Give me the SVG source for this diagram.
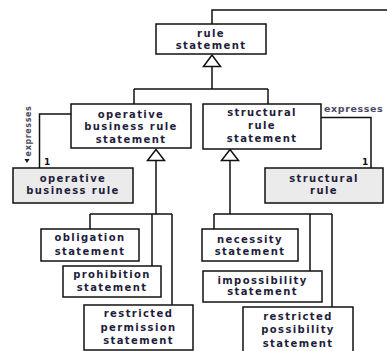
<svg xmlns="http://www.w3.org/2000/svg" width="387" height="351" viewBox="0 0 387 351">
<style>
.box{fill:#fff;stroke:#111;stroke-width:1.5}
.gray{fill:#ebebeb;stroke:#111;stroke-width:1.5}
.t{font-family:"DejaVu Sans","Liberation Sans",sans-serif;font-weight:bold;font-size:10px;letter-spacing:1.4px;fill:#1e1e3c;text-anchor:middle}
.lbl{font-family:"DejaVu Sans","Liberation Sans",sans-serif;font-weight:bold;font-size:9.5px;letter-spacing:0.6px;fill:#4a4a60}
.one{font-family:"DejaVu Sans","Liberation Sans",sans-serif;font-weight:bold;font-size:9px;fill:#111}
.ln{fill:none;stroke:#111;stroke-width:1.5}
.tri{fill:#fff;stroke:#111;stroke-width:1.5;stroke-linejoin:miter}
</style>
<rect width="387" height="351" fill="#fff"/>
<g id="connectors">
<path class="ln" d="M212,24 V10 H390"/>
<path class="ln" d="M212,66.5 V89 M134,89 H268 M134,89 V104 M268,89 V104"/>
<polygon class="tri" points="212,55 203.5,66.5 220.5,66.5"/>
<path class="ln" d="M156,160.5 V214 M90,214 H172 M90,214 V229 M152,214 V266 M172,214 V305"/>
<polygon class="tri" points="156,149.5 147.5,160.5 164.5,160.5"/>
<path class="ln" d="M230,160.5 V214 M214,214 H332 M214,214 V229 M310,214 V271 M332,214 V307"/>
<polygon class="tri" points="230,149.5 221.5,160.5 238.5,160.5"/>
<path class="ln" d="M71,114 H39.5 V168"/>
<path class="ln" d="M321,117.5 H371 V168"/>
<text class="lbl" transform="translate(31,131) rotate(-90)" text-anchor="middle" style="font-size:8px;letter-spacing:0.6px">expresses</text>
<polygon points="24.5,159 29.5,159 27,163" fill="#111"/>
<text class="one" x="44" y="165">1</text>
<text class="lbl" x="324" y="112">expresses</text>
<text class="one" x="362" y="165">1</text>
</g>
<g id="rule-statement">
<rect class="box" x="156" y="24" width="110" height="30"/>
<text class="t" x="211" y="36.5">rule</text>
<text class="t" x="211" y="49">statement</text>
</g>
<g id="operative-business-rule-statement">
<rect class="box" x="71" y="104" width="120" height="44"/>
<text class="t" x="131" y="117.5">operative</text>
<text class="t" x="131" y="130">business rule</text>
<text class="t" x="131" y="142.5">statement</text>
</g>
<g id="structural-rule-statement">
<rect class="box" x="203" y="104" width="118" height="45"/>
<text class="t" x="262" y="115.5">structural</text>
<text class="t" x="262" y="128.5">rule</text>
<text class="t" x="262" y="141.5">statement</text>
</g>
<g id="operative-business-rule">
<rect class="gray" x="13" y="168" width="120" height="35"/>
<text class="t" x="73" y="182">operative</text>
<text class="t" x="73" y="194">business rule</text>
</g>
<g id="structural-rule">
<rect class="gray" x="265" y="168" width="118" height="35"/>
<text class="t" x="324" y="182">structural</text>
<text class="t" x="324" y="193.5">rule</text>
</g>
<g id="obligation-statement">
<rect class="box" x="41" y="229" width="98" height="32"/>
<text class="t" x="90" y="241">obligation</text>
<text class="t" x="90" y="255">statement</text>
</g>
<g id="prohibition-statement">
<rect class="box" x="63" y="266" width="98" height="31"/>
<text class="t" x="112" y="277.5">prohibition</text>
<text class="t" x="112" y="291">statement</text>
</g>
<g id="restricted-permission-statement">
<rect class="box" x="84" y="305" width="109" height="45"/>
<text class="t" x="138.5" y="317">restricted</text>
<text class="t" x="138.5" y="330.5">permission</text>
<text class="t" x="138.5" y="343.5">statement</text>
</g>
<g id="necessity-statement">
<rect class="box" x="202" y="229" width="96" height="32"/>
<text class="t" x="250" y="242.5">necessity</text>
<text class="t" x="250" y="255">statement</text>
</g>
<g id="impossibility-statement">
<rect class="box" x="203" y="271" width="119" height="31"/>
<text class="t" x="262.5" y="283.5">impossibility</text>
<text class="t" x="262.5" y="295">statement</text>
</g>
<g id="restricted-possibility-statement">
<rect class="box" x="243" y="307" width="110" height="46"/>
<text class="t" x="298" y="320">restricted</text>
<text class="t" x="298" y="332.5">possibility</text>
<text class="t" x="298" y="346.5">statement</text>
</g>
</svg>
